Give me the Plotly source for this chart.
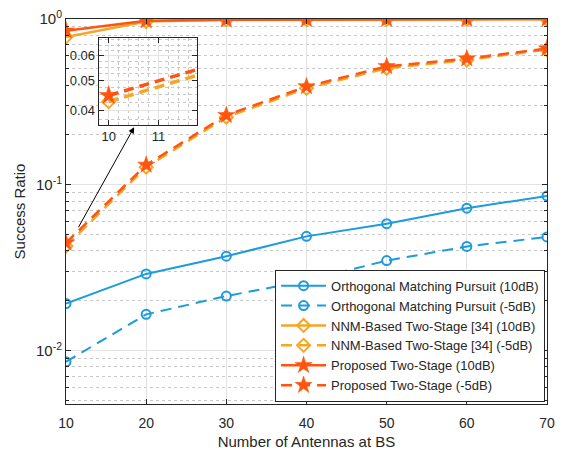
import plotly.graph_objects as go

antennas = [10, 20, 30, 40, 50, 60, 70]
omp_10 = [0.0193, 0.0291, 0.0372, 0.049, 0.0584, 0.0724, 0.0859]
omp_m5 = [0.0086, 0.0166, 0.0214, 0.0265, 0.035, 0.0426, 0.0486]
nnm_10 = [0.78, 0.965, 0.988, 0.993, 0.995, 0.996, 0.997]
nnm_m5 = [0.0428, 0.128, 0.256, 0.382, 0.505, 0.566, 0.655]
prop_10 = [0.85, 0.977, 0.99, 0.995, 0.997, 0.998, 0.999]
prop_m5 = [0.0448, 0.132, 0.263, 0.392, 0.518, 0.577, 0.664]

y_ticks = [0.01, 0.1, 1]
y_ticktext = ["10<sup>-2</sup>", "10<sup>-1</sup>", "10<sup>0</sup>"]
y_minor = [m * d for d in (0.001, 0.01, 0.1) for m in range(2, 10)]
x_ticks = [10, 20, 30, 40, 50, 60, 70]
inset_x_ticks = [10, 11]
inset_y_ticks = [0.04, 0.05, 0.06]
inset_y_ticktext = ["0.04", "0.05", "0.06"]
inset_y_minor = [0.0375, 0.0425, 0.045, 0.0475, 0.0525, 0.055, 0.0575, 0.0625, 0.065, 0.0675]

C_OMP = "#1C9BDD"
C_NNM = "#F5A623"
C_PROP = "#FF5511"
DASH = "11px,7px"

fig = go.Figure()

series = [
    ("Orthogonal Matching Pursuit (10dB)", omp_10, C_OMP, "solid", "circle-open", 9, 2),
    ("Orthogonal Matching Pursuit (-5dB)", omp_m5, C_OMP, DASH, "circle-open", 9, 2),
    ("NNM-Based Two-Stage [34] (10dB)", nnm_10, C_NNM, "solid", "diamond-open", 10, 2.5),
    ("NNM-Based Two-Stage [34] (-5dB)", nnm_m5, C_NNM, DASH, "diamond-open", 10, 2.5),
    ("Proposed Two-Stage (10dB)", prop_10, C_PROP, "solid", "star", 13, 2.5),
    ("Proposed Two-Stage (-5dB)", prop_m5, C_PROP, DASH, "star", 13, 2.5),
]

for name, ys, col, dash, sym, size, lw in series:
    fig.add_trace(go.Scatter(
        x=antennas, y=ys, name=name, mode="lines+markers",
        line=dict(color=col, width=lw, dash=dash),
        marker=dict(symbol=sym, size=size, color=col,
                    line=dict(color=col, width=2 if "open" in sym else 0.5)),
        xaxis="x", yaxis="y",
    ))

# inset traces (-5dB NNM and proposed)
for name, ys, col, sym, size in [
    ("NNM-Based Two-Stage [34] (-5dB)", nnm_m5, C_NNM, "diamond-open", 10),
    ("Proposed Two-Stage (-5dB)", prop_m5, C_PROP, "star", 14),
]:
    fig.add_trace(go.Scatter(
        x=antennas, y=ys, name=name, showlegend=False, mode="lines+markers",
        line=dict(color=col, width=3.5, dash="10px,6px"),
        marker=dict(symbol=sym, size=size, color=col,
                    line=dict(color=col, width=2 if "open" in sym else 0.5)),
        xaxis="x2", yaxis="y2", cliponaxis=True,
    ))

FONT = "Liberation Sans, Arial"
axis_common = dict(
    showline=True, linecolor="#262626", linewidth=1, mirror="ticks",
    ticks="inside", tickcolor="#262626", ticklen=5,
    gridcolor="#E3E3E3", gridwidth=1, zeroline=False,
    tickfont=dict(family=FONT, size=14, color="#262626"),
)
inset_common = {**axis_common, "tickfont": dict(family=FONT, size=13, color="#262626")}

fig.update_layout(
    width=563, height=455,
    margin=dict(l=66, r=8, t=19, b=50),
    paper_bgcolor="white", plot_bgcolor="white",
    font=dict(family=FONT, color="#262626"),
    xaxis=dict(
        **axis_common, range=[10, 70], tickvals=x_ticks, ticklabelstandoff=6,
        title=dict(text="Number of Antennas at BS", font=dict(size=15), standoff=6),
        domain=[0, 1],
    ),
    yaxis=dict(
        **{**axis_common, "tickfont": dict(family=FONT, size=15, color="#262626")},
        type="log", range=[-2.32, 0.0], tickvals=y_ticks, ticktext=y_ticktext,
        title=dict(text="Success Ratio", font=dict(size=15), standoff=6),
        minor=dict(tickmode="array", tickvals=y_minor, ticks="inside", ticklen=3,
                   tickcolor="#262626", showgrid=True, griddash="dot", gridcolor="#C8C8C8"),
        domain=[0, 1],
    ),
    xaxis2=dict(
        **inset_common,
        anchor="y2", domain=[0.068, 0.272], range=[9.8, 11.77], tickvals=inset_x_ticks,
        minor=dict(tickmode="array", tickvals=[10.2, 10.4, 10.6, 10.8, 11.2, 11.4, 11.6],
                   showgrid=True, griddash="dot", gridcolor="#C8C8C8", ticks=""),
    ),
    yaxis2=dict(
        **inset_common,
        anchor="x2", domain=[0.725, 0.951], type="log", range=[-1.443, -1.164],
        tickvals=inset_y_ticks, ticktext=inset_y_ticktext,
        minor=dict(tickmode="array", tickvals=inset_y_minor, showgrid=True,
                   griddash="dot", gridcolor="#C8C8C8", ticks=""),
    ),
    legend=dict(
        x=0.996, y=0.006, xanchor="right", yanchor="bottom",
        bgcolor="white", bordercolor="#262626", borderwidth=1,
        font=dict(family=FONT, size=13, color="#262626"),
        tracegroupgap=0, itemwidth=45,
    ),
    showlegend=True,
)

fig.add_annotation(
    x=18.5, y=-0.652, xref="x", yref="y",
    ax=11.45, ay=-1.264, axref="x", ayref="y",
    showarrow=True, arrowhead=2, arrowsize=1.2, arrowwidth=1, arrowcolor="black", text="",
)

fig.write_html("out.html")
